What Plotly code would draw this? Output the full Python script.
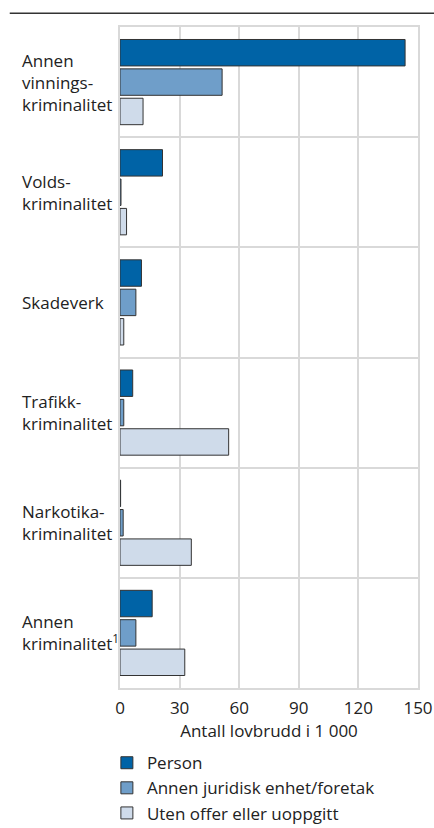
import plotly.graph_objects as go

categories = [
    "Annen<br>vinnings-<br>kriminalitet",
    "Volds-<br>kriminalitet",
    "Skadeverk",
    "Trafikk-<br>kriminalitet",
    "Narkotika-<br>kriminalitet",
    "Annen<br>kriminalitet<sup>1</sup>",
]
series_names = ["Person", "Annen juridisk enhet/foretak", "Uten offer eller uoppgitt"]
person = [143.5, 21.4, 10.8, 6.4, 0.3, 16.2]
juridisk = [51.4, 0.5, 8.0, 1.9, 1.6, 8.0]
uten_offer = [11.6, 3.3, 1.9, 54.7, 35.9, 32.6]
colors = ["#0063a6", "#6f9ec9", "#cfdbea"]
x_ticks = [0, 30, 60, 90, 120, 150]

FONT = "Open Sans"
FS = 17
TXT = "#222222"
fig = go.Figure()
for name, vals, col in zip(series_names, [person, juridisk, uten_offer], colors):
    fig.add_trace(go.Bar(
        y=categories, x=vals, name=name, orientation="h", legendgroup=name,
        marker=dict(color=col, line=dict(color="#333333", width=1)),
    ))

for cat in categories:
    fig.add_annotation(
        x=-0.337, xref="paper", y=cat, yref="y", text=cat,
        showarrow=False, xanchor="left", align="left",
        font=dict(family=FONT, size=FS, color=TXT),
    )

fig.add_shape(type="line", xref="paper", yref="paper",
              x0=-0.37, x1=1.054, y0=1.0207, y1=1.0207,
              line=dict(color="#333333", width=1.5))

fig.update_layout(
    width=434, height=828,
    margin=dict(l=119.5, r=16, t=26.7, b=140, autoexpand=False),
    paper_bgcolor="white", plot_bgcolor="white",
    barmode="group", bargap=0.2, bargroupgap=0.1,
    font=dict(family=FONT, size=FS, color=TXT),
    showlegend=True,
    legend=dict(
        x=-0.044, xanchor="left", y=-0.0865, yanchor="top",
        orientation="v", traceorder="normal",
        font=dict(family=FONT, size=FS, color=TXT),
        bgcolor="rgba(0,0,0,0)", tracegroupgap=4.5,
    ),
    xaxis=dict(
        range=[0, 150], tickvals=x_ticks, ticktext=[str(v) for v in x_ticks],
        showgrid=True, gridcolor="#d9d9d9", gridwidth=2,
        showline=True, linecolor="#d9d9d9", linewidth=2, mirror=True,
        zeroline=False,
        ticks="outside", ticklen=4, tickcolor="rgba(0,0,0,0)",
        tickfont=dict(family=FONT, size=FS, color=TXT),
        title=dict(text="Antall lovbrudd i 1 000", standoff=6,
                   font=dict(family=FONT, size=FS, color=TXT)),
        fixedrange=True,
    ),
    yaxis=dict(
        autorange="reversed", tickson="boundaries",
        showgrid=True, gridcolor="#d9d9d9", gridwidth=2,
        showline=True, linecolor="#d9d9d9", linewidth=2, mirror=True,
        showticklabels=False, ticks="", zeroline=False,
        fixedrange=True,
    ),
)

fig.write_html("out.html", config={"displayModeBar": False},
               post_script="document.body.style.margin='0px';")
